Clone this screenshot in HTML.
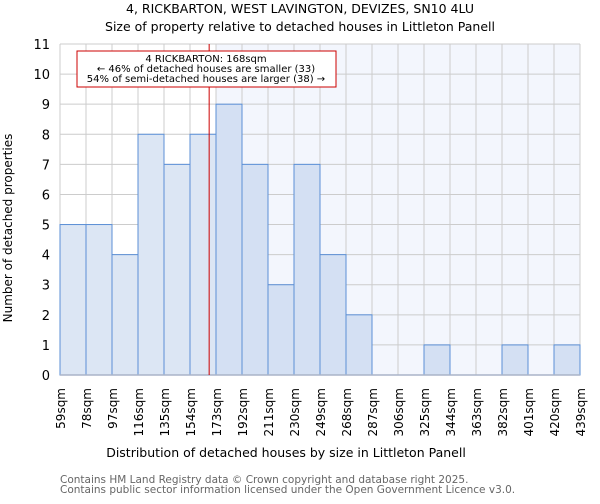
<!DOCTYPE html>
<html><head><meta charset="utf-8"><style>
body{margin:0;background:#fff;font-family:"DejaVu Sans","Liberation Sans",sans-serif}
svg text{font-family:"DejaVu Sans","Liberation Sans",sans-serif}
</style></head><body>
<svg width="600" height="500" xmlns="http://www.w3.org/2000/svg" id="chart">
<text x="300" y="13" text-anchor="middle" font-size="12.5">4, RICKBARTON, WEST LAVINGTON, DEVIZES, SN10 4LU</text>
<text x="300" y="31" text-anchor="middle" font-size="12.5">Size of property relative to detached houses in Littleton Panell</text>
<g id="plot"></g>
<text x="286" y="457" text-anchor="middle" font-size="12.5">Distribution of detached houses by size in Littleton Panell</text>
<text transform="translate(12,228) rotate(-90)" text-anchor="middle" font-size="12">Number of detached properties</text>
<text x="60" y="483" font-size="10.5" fill="#666">Contains HM Land Registry data © Crown copyright and database right 2025.</text>
<text x="60" y="493" font-size="10.5" fill="#666">Contains public sector information licensed under the Open Government Licence v3.0.</text>
</svg>
<script>
const binLabels=["59sqm","78sqm","97sqm","116sqm","135sqm","154sqm","173sqm","192sqm","211sqm","230sqm","249sqm","268sqm","287sqm","306sqm","325sqm","344sqm","363sqm","382sqm","401sqm","420sqm","439sqm"];
const binStarts=[59,78,97,116,135,154,173,192,211,230,249,268,287,306,325,344,363,382,401,420];
const counts=[5,5,4,8,7,8,9,7,3,7,4,2,0,0,1,0,0,1,0,1];
const yTicks=[0,1,2,3,4,5,6,7,8,9,10,11];
const subjectSize=168;
const X0=60,X1=580,Y0=375,Y1=44,binW=19,xMin=59,xMax=439,yMax=11;
const xs=v=>X0+(v-xMin)/(xMax-xMin)*(X1-X0);
const ys=v=>Y0-(v/yMax)*(Y0-Y1);
const NS="http://www.w3.org/2000/svg";
const g=document.getElementById('plot');
function mk(t,a){const e=document.createElementNS(NS,t);for(const k in a)e.setAttribute(k,a[k]);g.appendChild(e);return e;}
const shadeStart=xs(binStarts.find(b=>b>subjectSize));
let e=mk('rect',{x:shadeStart,y:Y1,width:X1-shadeStart,height:Y0-Y1,fill:'#f3f6fd'});


yTicks.forEach(t=>{let l=mk('line',{x1:X0,x2:X1,y1:ys(t),y2:ys(t),stroke:'#cccccc','stroke-width':1});


let tx=mk('text',{x:X0-10,y:ys(t)+5,'text-anchor':'end','font-size':13});tx.textContent=t;

});
binLabels.forEach((lab,i)=>{const v=xMin+i*binW;let l=mk('line',{x1:xs(v),x2:xs(v),y1:Y1,y2:Y0,stroke:'#cccccc','stroke-width':1});


let tx=mk('text',{transform:`translate(${xs(v)+5},388) rotate(-90)`,'text-anchor':'end','font-size':12});tx.textContent=lab;

});
counts.forEach((c,i)=>{if(c<=0)return;const x=xs(binStarts[i]),w=xs(binStarts[i]+binW)-x;
let r=mk('rect',{x:x,y:ys(c),width:w,height:Y0-ys(c),fill:binStarts[i]>subjectSize?'#d4e0f3':'#dce6f4',stroke:'#5b8fd6','stroke-width':1});

});
let ax=mk('line',{x1:X0,x2:X1,y1:Y0,y2:Y0,stroke:'#aab4c8','stroke-width':1.5});


let rl=mk('line',{x1:xs(subjectSize),x2:xs(subjectSize),y1:Y1,y2:Y0,stroke:'#cc0000','stroke-width':1});


let box=mk('rect',{x:77,y:51,width:259,height:36,fill:'#fff',stroke:'#cc0000','stroke-width':1});


["4 RICKBARTON: 168sqm","← 46% of detached houses are smaller (33)","54% of semi-detached houses are larger (38) →"].forEach((s,i)=>{
let t=mk('text',{x:206,y:62+i*10,'text-anchor':'middle','font-size':10});t.textContent=s;

});
</script>
</body></html>
